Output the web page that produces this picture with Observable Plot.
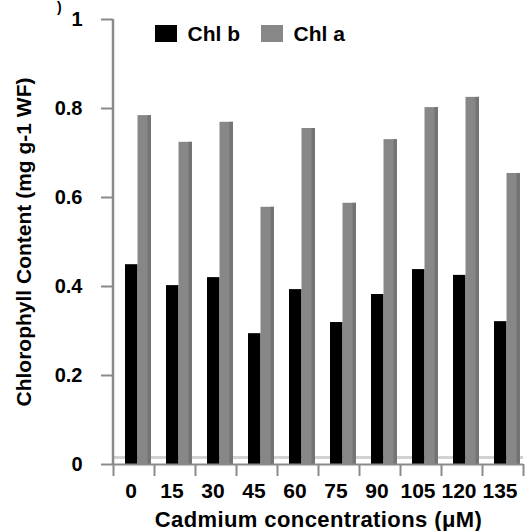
<!DOCTYPE html>
<html>
<head>
<meta charset="utf-8">
<script src="https://cdn.jsdelivr.net/npm/d3@7"></script>
<script src="https://cdn.jsdelivr.net/npm/@observablehq/plot@0.6"></script>
<style>
  html, body { margin: 0; padding: 0; background: #fff; }
  #wrap { position: relative; width: 529px; height: 531px; overflow: hidden; font-family: "Liberation Sans", Arial, sans-serif; font-weight: bold; }
  #legend { position: absolute; left: 155px; top: 17px; }
  #corner { position: absolute; left: 57px; top: 0px; font-size: 14px; line-height: 14px; font-weight: bold; color: #000; }
</style>
</head>
<body>
<div id="wrap">
  <div id="chart"></div>
  <div id="legend"></div>
  <div id="corner">)</div>
</div>
<script>
// Data
const concentrations = ["0", "15", "30", "45", "60", "75", "90", "105", "120", "135"];
const chlB = [0.449, 0.402, 0.420, 0.294, 0.393, 0.319, 0.382, 0.438, 0.425, 0.321];
const chlA = [0.784, 0.724, 0.769, 0.578, 0.755, 0.587, 0.730, 0.802, 0.825, 0.654];
const seriesNames = ["Chl b", "Chl a"];
const seriesColors = ["#000000", "#878787"];
const yTicks = [0, 0.2, 0.4, 0.6, 0.8, 1];

const rowsB = concentrations.map((c, i) => ({conc: c, value: chlB[i], series: seriesNames[0]}));
const rowsA = concentrations.map((c, i) => ({conc: c, value: chlA[i], series: seriesNames[1]}));
// the y axis spine spans the full y domain at the left edge of the first category band
const spineRows = [{conc: concentrations[0], value: yTicks[yTicks.length - 1]}];

const axisGray = "#8a8a8a";

const chart = Plot.plot({
  width: 529,
  height: 531,
  marginLeft: 113,
  marginRight: 6,
  marginTop: 19,
  marginBottom: 67,
  style: {fontFamily: "'Liberation Sans', Arial, sans-serif", fontWeight: "bold", color: "#000", background: "#fff"},
  x: {domain: concentrations, paddingInner: 0, paddingOuter: 0},
  y: {domain: [0, 1]},
  marks: [
    // 3D floor line
    Plot.ruleY([0], {dy: -7, stroke: "#d2d2d2", strokeWidth: 3}),
    // bars
    Plot.barY(rowsB, {x: "conc", y: "value", fill: seriesColors[0], insetLeft: 12, insetRight: 16.5}),
    Plot.barY(rowsA, {x: "conc", y: "value", fill: seriesColors[1], insetLeft: 24.5, insetRight: 3}),
    Plot.barY(rowsA, {x: "conc", y: "value", fill: "#747474", insetLeft: 34.5, insetRight: 3}),
    // x axis line
    Plot.ruleY([0], {stroke: axisGray, strokeWidth: 2}),
    // y axis ticks and labels
    Plot.axisY({ticks: yTicks, tickSize: 12, tickPadding: 19, tickFormat: d => String(d),
      fontSize: 20, stroke: axisGray, strokeWidth: 2, fill: "#000", label: null}),
    Plot.axisY({ticks: [], tickSize: 0, label: "Chlorophyll Content (mg g-1 WF)", labelAnchor: "center",
      labelOffset: 97, labelArrow: "none", fontSize: 21, fill: "#000"}),
    // x axis boundary ticks
    Plot.axisX({tickSize: 12, tickFormat: () => "", dx: -20.5, stroke: axisGray, strokeWidth: 2, label: null}),
    Plot.axisX({ticks: [concentrations[concentrations.length - 1]], tickSize: 12, tickFormat: () => "", dx: 20.5, stroke: axisGray, strokeWidth: 2, label: null}),
    // x tick labels
    Plot.axisX({tickSize: 0, tickPadding: 19, dx: -3, fontSize: 21, fill: "#000", label: null}),
    // x title
    Plot.axisX({ticks: [], tickSize: 0, fontSize: 22, fill: "#000",
      label: "Cadmium concentrations (\u03bcM)", labelAnchor: "center", labelOffset: 62, labelArrow: "none"}),
    // y axis spine, drawn last so nothing covers it
    Plot.ruleX(spineRows, {x: "conc", y1: 0, y2: "value", dx: -21, stroke: axisGray, strokeWidth: 2.5})
  ]
});
document.getElementById("chart").appendChild(chart);

chart.querySelectorAll('[aria-label="x-axis label"] text').forEach(t => t.setAttribute("letter-spacing", "0.4"));

const legend = Plot.legend({
  color: {domain: seriesNames, range: seriesColors},
  legend: "swatches",
  swatchWidth: 22,
  swatchHeight: 17,
  style: {fontSize: "21px", fontWeight: "bold", fontFamily: "'Liberation Sans', Arial, sans-serif", color: "#000"}
});
document.getElementById("legend").appendChild(legend);
</script>
</body>
</html>
